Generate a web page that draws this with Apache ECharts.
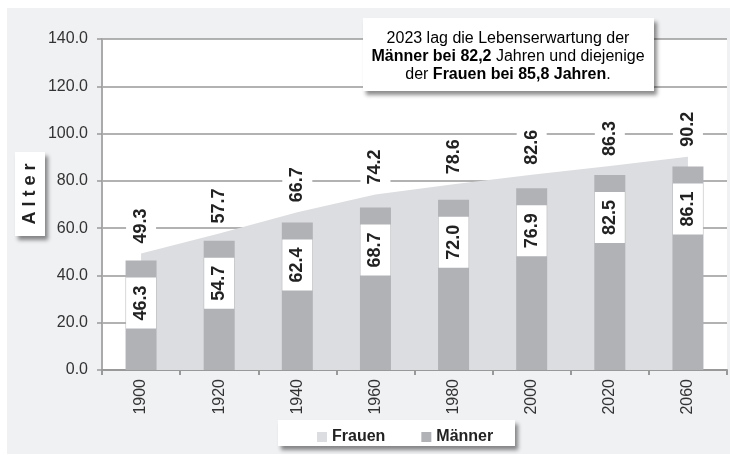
<!DOCTYPE html>
<html>
<head>
<meta charset="utf-8">
<script src="https://cdn.jsdelivr.net/npm/echarts@6/dist/echarts.min.js"></script>
<style>
  html, body { margin: 0; padding: 0; background: #fff; }
  #bg { position: absolute; left: 7px; top: 8px; width: 723px; height: 446px; background: #f0f1f3; }
  #chart { position: absolute; left: 0; top: 0; width: 730px; height: 455px; }
</style>
</head>
<body>
<div id="bg"></div>
<div id="chart"></div>
<script>
// Lebenserwartung bei Geburt
var years = ['1900', '1920', '1940', '1960', '1980', '2000', '2020', '2060'];
var frauen = [49.3, 57.7, 66.7, 74.2, 78.6, 82.6, 86.3, 90.2];
var maenner = [46.3, 54.7, 62.4, 68.7, 72.0, 76.9, 82.5, 86.1];
var yMin = 0, yMax = 140, yStep = 20;

var FONT = 'Liberation Sans';
var shadow = { shadowBlur: 4, shadowOffsetX: 3, shadowOffsetY: 4, shadowColor: 'rgba(0,0,0,0.45)' };

function fmt(p) { return p.value.toFixed(1); }

var chart = echarts.init(document.getElementById('chart'));
chart.setOption({
    animation: false,
    textStyle: { fontFamily: FONT },
    grid: { left: 102, right: 3, top: 39, bottom: 85, show: true, backgroundColor: '#fff', borderWidth: 0 },
    legend: {
        data: ['Frauen', 'Männer'],
        left: 312, top: 424,
        icon: 'rect', itemWidth: 10, itemHeight: 10, itemGap: 36,
        textStyle: { fontFamily: FONT, fontSize: 16, fontWeight: 'bold', color: '#222' }
    },
    xAxis: {
        type: 'category',
        data: years,
        axisLine: { lineStyle: { color: '#999', width: 2 } },
        axisTick: { show: true, interval: 0, length: 5, lineStyle: { color: '#999', width: 2 } },
        axisLabel: { rotate: 90, interval: 0, fontFamily: FONT, fontSize: 16, color: '#333', margin: 9 },
        splitLine: { show: false }
    },
    yAxis: {
        type: 'value',
        min: yMin, max: yMax, interval: yStep,
        axisLine: { show: true, lineStyle: { color: '#aaa', width: 2 } },
        axisTick: { show: true, length: 5, lineStyle: { color: '#999', width: 1.5 } },
        axisLabel: { fontFamily: FONT, fontSize: 16, color: '#333', margin: 14, formatter: function (v) { return v.toFixed(1); } },
        splitLine: { lineStyle: { color: '#999', width: 1.5 } }
    },
    series: [
        {
            name: 'Frauen',
            type: 'line',
            data: frauen,
            symbol: 'circle', symbolSize: 0, showSymbol: true,
            itemStyle: { color: '#dcdde0' },
            lineStyle: { width: 0, color: '#dcdde0' },
            areaStyle: { color: '#dcdde0', opacity: 1 },
            z: 2,
            label: {
                show: true, position: 'top', distance: 8, rotate: 90,
                align: 'left', verticalAlign: 'middle',
                backgroundColor: '#fff', padding: [6, 2],
                fontFamily: FONT, fontSize: 18, fontWeight: 'bold', color: '#222',
                formatter: fmt
            }
        },
        {
            name: 'Männer',
            type: 'bar',
            data: maenner,
            barWidth: 31,
            itemStyle: { color: '#b1b2b6' },
            z: 3,
            label: {
                show: true, position: 'insideTop', distance: 17, rotate: 90,
                align: 'right', verticalAlign: 'middle',
                backgroundColor: '#fff', padding: [6, 8],
                fontFamily: FONT, fontSize: 18, fontWeight: 'bold', color: '#222',
                formatter: fmt
            }
        }
    ],
    graphic: [
        // Hinweisbox oben
        {
            type: 'rect', z: 10,
            shape: { x: 363, y: 18, width: 291, height: 73 },
            style: Object.assign({ fill: '#fff' }, shadow)
        },
        {
            type: 'text', z: 11, x: 508, y: 30,
            style: {
                text: '{n|2023 lag die Lebenserwartung der}\n{b|Männer bei 82,2}{n| Jahren und diejenige}\n{n|der }{b|Frauen bei 85,8 Jahren}{n|.}',
                textAlign: 'center', textVerticalAlign: 'top',
                rich: {
                    n: { fontFamily: FONT, fontSize: 16, color: '#222', lineHeight: 18 },
                    b: { fontFamily: FONT, fontSize: 16, fontWeight: 'bold', color: '#222', lineHeight: 18 }
                }
            }
        },
        // Achsentitel
        {
            type: 'rect', z: 10,
            shape: { x: 15, y: 152, width: 30, height: 84 },
            style: Object.assign({ fill: '#fff' }, shadow)
        },
        {
            type: 'text', z: 11, x: 30, y: 194, rotation: Math.PI / 2,
            style: {
                text: 'A l t e r', font: 'bold 18px "Liberation Sans"', fill: '#222',
                textAlign: 'center', textVerticalAlign: 'middle'
            }
        },
        // Legendenbox
        {
            type: 'rect', z: -1,
            shape: { x: 278, y: 420, width: 237, height: 26 },
            style: Object.assign({ fill: '#fff' }, shadow)
        }
    ]
});
</script>
</body>
</html>
